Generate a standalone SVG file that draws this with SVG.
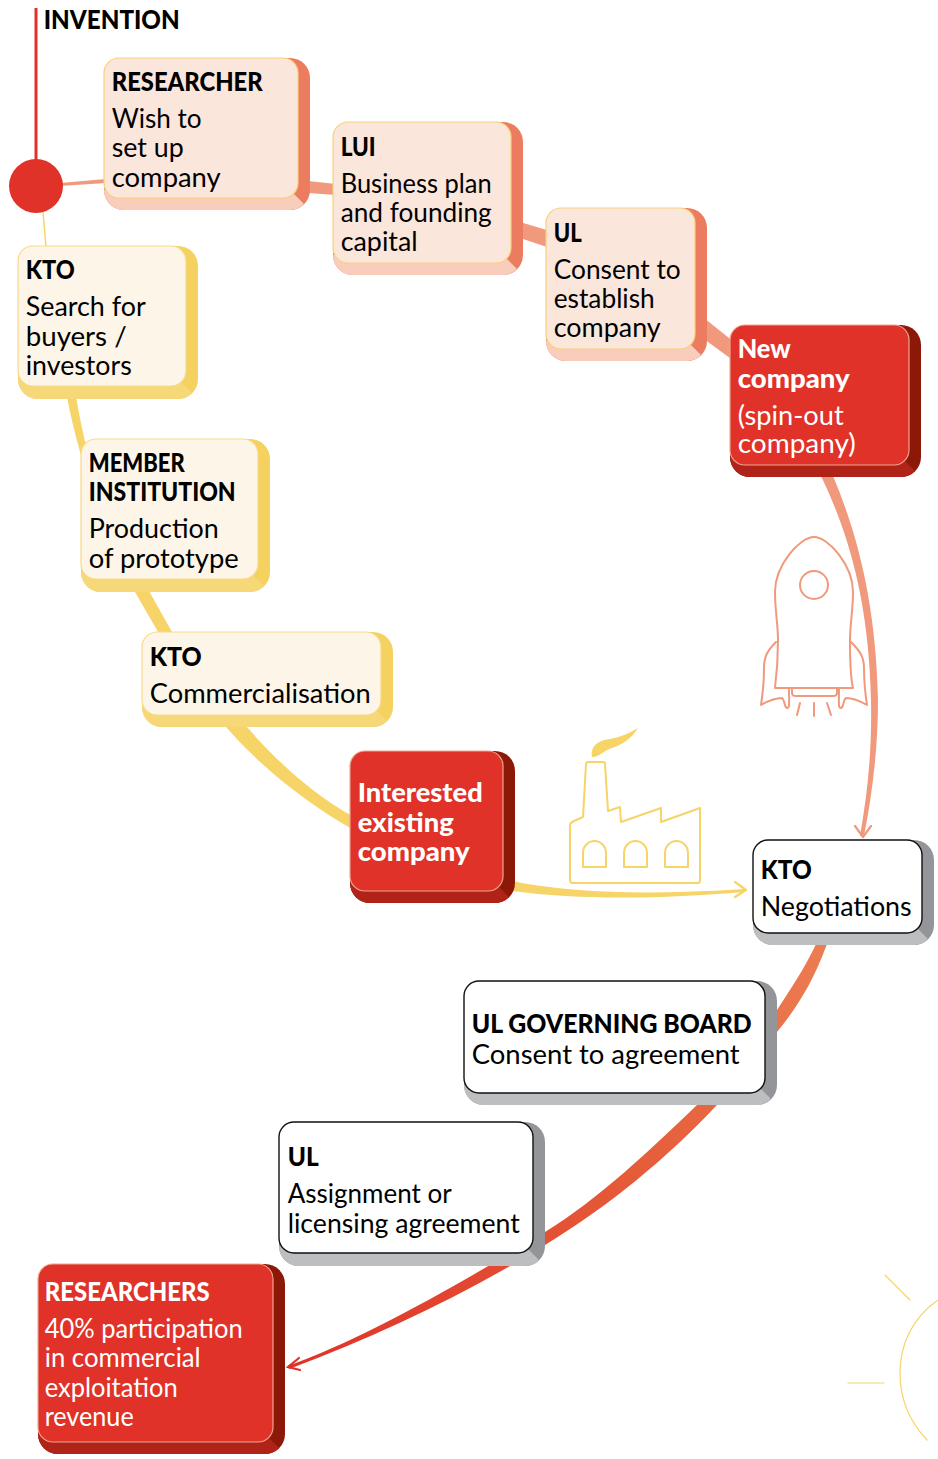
<svg xmlns="http://www.w3.org/2000/svg" width="938" height="1459" viewBox="0 0 938 1459">
<style>
text{font-family:"Lato","Noto Sans","Liberation Sans",sans-serif;font-size:27px;fill:#000;transform:translate(-.3px,0)}
.h{font-weight:900;font-size:26px;transform:translate(-.3px,0)}
.w{fill:#fff}
.pf{fill:#fbe6dc;stroke:#f7d27a;stroke-width:1.2}
.ps{fill:#ec7c60}.pb{fill:#f8cdbc}
.yf{fill:#fdf6e8;stroke:#f7d98a;stroke-width:1.2}
.ys{fill:#f5d160}.yb{fill:#f7d878}
.rf{fill:#e03228;stroke:#f0a58c;stroke-width:1.2}
.rs{fill:#8c1808}.rb{fill:#b02318}
.gf{fill:#fff;stroke:#111;stroke-width:1.4}
.gs{fill:#939598}.gb{fill:#bcbec0}
.sal{fill:none;stroke:#f1997c;stroke-linecap:round;stroke-linejoin:round}
.yel{fill:none;stroke:#f6d468;stroke-linecap:round;stroke-linejoin:round}
</style>
<defs>
<linearGradient id="redband" gradientUnits="userSpaceOnUse" x1="826" y1="945" x2="288" y2="1367">
<stop offset="0" stop-color="#ec7d52"/><stop offset=".45" stop-color="#e55a38"/><stop offset="1" stop-color="#e03228"/>
</linearGradient>
</defs>
<g id="connectors">
<path d="M36 8V160" fill="none" stroke="#e03228" stroke-width="3"/>
<path d="M60 183L106 179V183L60 186Z" fill="#f1997c"/>
<path d="M43 212L46 247" class="yel" stroke-width="1.5"/>
<path d="M308 181L336 184V195L308 193Z" fill="#f1997c"/>
<path d="M520 222L550 231V248L520 238Z" fill="#f1997c"/>
<path d="M704 318L734 342V361L704 339Z" fill="#f1997c"/>
<path d="M821 476L833 476C860 540 876 610 878 700C878 750 872 795 864 836L860 836C868 790 872 750 871 700C869 610 852 540 821 476Z" fill="#f1997c"/>
<path d="M855 826L863 837L871 826" class="sal" stroke-width="2.2"/>
<path d="M67 397C80 465 110 550 135 592C160 635 190 690 226 727C262 768 305 802 352 829L352 816C315 795 280 765 247 727C220 697 195 672 172 632C150 592 125 550 106 510C90 470 82 430 76 397Z" fill="#f6d468"/>
<path d="M512 881C580 895 660 894 745 889V892C660 899 580 900 512 891Z" fill="#f6d468"/>
<path d="M735 882L746 890L735 897" class="yel" stroke-width="2.2"/>
<path d="M817 942L827 944C812 985 795 1010 777 1032C760 1060 740 1080 717 1105C665 1160 610 1205 545 1245C470 1292 380 1335 289 1369L288 1366C360 1340 450 1290 545 1232C600 1198 650 1150 697 1105C725 1075 755 1042 777 1010C790 990 805 968 817 942Z" fill="url(#redband)"/>
<path d="M299 1358L288 1367L300 1370" fill="none" stroke="#e03228" stroke-width="2.2" stroke-linecap="round"/>
<circle cx="36" cy="186" r="27" fill="#e03228"/>
</g>
<g id="rocket" class="sal" stroke-width="2">
<path d="M814 537C800 537 775 565 775 592C775 610 778 625 778 640C778 660 776 680 775 688H853C851 680 850 660 850 640C850 625 853 610 853 592C853 565 828 537 814 537Z"/>
<circle cx="814" cy="585" r="14"/>
<path d="M776 642C768 650 764 656 764 668C764 680 763 692 761 705C768 701 775 698 782 698C785 700 784 707 787 708C790 708 789 704 789 689"/>
<path d="M851 642C859 650 864 656 864 668C864 680 865 692 867 705C860 701 853 698 846 698C843 700 844 707 841 708C838 708 839 704 839 689"/>
<path d="M792 689V693Q792 696 796 696H833Q837 696 837 693V689"/>
<path d="M800 703L797 715M814 703V716M827 703L831 715"/>
</g>
<g id="factory" class="yel" stroke-width="2">
<path d="M570 825V880Q570 883 573 883H698Q700 883 700 880V808L661 822V808L621 822L620 807L608 811L605 764Q605 762 603 762H588Q586 762 586 764L583 817L574 821Q570 823 570 825Z"/>
<path d="M583 867V853A11.500 12 0 0 1 606 853V867Z"/>
<path d="M624 867V853A11.500 12 0 0 1 647 853V867Z"/>
<path d="M665 867V853A11.500 12 0 0 1 688 853V867Z"/>
<path d="M592 757C590 745 600 740 610 739C620 737 630 733 638 728C632 738 622 745 612 748C604 750 600 757 592 757Z" fill="#f6d468" stroke="none"/>
</g>
<g id="sun" class="yel" stroke-width="1.2">
<path d="M938 1300C912 1318 900 1345 900 1373C900 1400 910 1422 927 1440"/>
<path d="M885 1275L910 1300M848 1383H884"/>
</g>
<g id="node-invention"><text class="h" x="44" y="29" textLength="136" lengthAdjust="spacingAndGlyphs">INVENTION</text></g>
<g id="node-researcher">
<rect class="ps" x="104" y="58" width="206" height="152" rx="20"/>
<path class="pb" d="M104 190L294 194L304 204A20 20 0 0 1 290 210H124A20 20 0 0 1 104 190Z"/>
<rect class="pf" x="104" y="58" width="194" height="140" rx="15"/>
<text class="h" x="112" y="91" textLength="151" lengthAdjust="spacingAndGlyphs">RESEARCHER</text>
<text x="112" y="128" textLength="90" lengthAdjust="spacingAndGlyphs">Wish to</text>
<text x="112" y="157" textLength="72" lengthAdjust="spacingAndGlyphs">set up</text>
<text x="112" y="187" textLength="109" lengthAdjust="spacingAndGlyphs">company</text>
</g>
<g id="node-lui">
<rect class="ps" x="333" y="122" width="190" height="153" rx="20"/>
<path class="pb" d="M333 255L507 259L517 269A20 20 0 0 1 503 275H353A20 20 0 0 1 333 255Z"/>
<rect class="pf" x="333" y="122" width="178" height="141" rx="15"/>
<text class="h" x="341" y="156" textLength="35" lengthAdjust="spacingAndGlyphs">LUI</text>
<text x="341" y="193" textLength="151" lengthAdjust="spacingAndGlyphs">Business plan</text>
<text x="341" y="222" textLength="151" lengthAdjust="spacingAndGlyphs">and founding</text>
<text x="341" y="251" textLength="77" lengthAdjust="spacingAndGlyphs">capital</text>
</g>
<g id="node-ul-consent">
<rect class="ps" x="546" y="208" width="161" height="153" rx="20"/>
<path class="pb" d="M546 341L691 345L701 355A20 20 0 0 1 687 361H566A20 20 0 0 1 546 341Z"/>
<rect class="pf" x="546" y="208" width="149" height="141" rx="15"/>
<text class="h" x="554" y="242" textLength="28" lengthAdjust="spacingAndGlyphs">UL</text>
<text x="554" y="279" textLength="127" lengthAdjust="spacingAndGlyphs">Consent to</text>
<text x="554" y="308" textLength="101" lengthAdjust="spacingAndGlyphs">establish</text>
<text x="554" y="337" textLength="107" lengthAdjust="spacingAndGlyphs">company</text>
</g>
<g id="node-new-company">
<rect class="rs" x="730" y="325" width="191" height="152" rx="20"/>
<path class="rb" d="M730 457L905 461L915 471A20 20 0 0 1 901 477H750A20 20 0 0 1 730 457Z"/>
<rect class="rf" x="730" y="325" width="179" height="140" rx="15"/>
<text class="h w" x="738" y="358" textLength="53" lengthAdjust="spacingAndGlyphs">New</text>
<text class="h w" x="738" y="388" textLength="112" lengthAdjust="spacingAndGlyphs">company</text>
<text class="w" x="738" y="425" textLength="106" lengthAdjust="spacingAndGlyphs">(spin-out</text>
<text class="w" x="738" y="453" textLength="118" lengthAdjust="spacingAndGlyphs">company)</text>
</g>
<g id="node-kto-search">
<rect class="ys" x="18" y="246" width="180" height="153" rx="20"/>
<path class="yb" d="M18 379L182 383L192 393A20 20 0 0 1 178 399H38A20 20 0 0 1 18 379Z"/>
<rect class="yf" x="18" y="246" width="168" height="140" rx="15"/>
<text class="h" x="26" y="279" textLength="49" lengthAdjust="spacingAndGlyphs">KTO</text>
<text x="26" y="316" textLength="120" lengthAdjust="spacingAndGlyphs">Search for</text>
<text x="26" y="346" textLength="101" lengthAdjust="spacingAndGlyphs">buyers /</text>
<text x="26" y="375" textLength="106" lengthAdjust="spacingAndGlyphs">investors</text>
</g>
<g id="node-member">
<rect class="ys" x="81" y="439" width="189" height="153" rx="20"/>
<path class="yb" d="M81 572L254 576L264 586A20 20 0 0 1 250 592H101A20 20 0 0 1 81 572Z"/>
<rect class="yf" x="81" y="439" width="177" height="140" rx="15"/>
<text class="h" x="89" y="472" textLength="96" lengthAdjust="spacingAndGlyphs">MEMBER</text>
<text class="h" x="89" y="501" textLength="147" lengthAdjust="spacingAndGlyphs">INSTITUTION</text>
<text x="89" y="538" textLength="130" lengthAdjust="spacingAndGlyphs">Production</text>
<text x="89" y="568" textLength="150" lengthAdjust="spacingAndGlyphs">of prototype</text>
</g>
<g id="node-kto-comm">
<rect class="ys" x="142" y="632" width="251" height="95" rx="20"/>
<path class="yb" d="M142 707L377 711L387 721A20 20 0 0 1 373 727H162A20 20 0 0 1 142 707Z"/>
<rect class="yf" x="142" y="632" width="239" height="83" rx="15"/>
<text class="h" x="150" y="666" textLength="52" lengthAdjust="spacingAndGlyphs">KTO</text>
<text x="150" y="703" textLength="221" lengthAdjust="spacingAndGlyphs">Commercialisation</text>
</g>
<g id="node-interested">
<rect class="rs" x="350" y="751" width="165" height="152" rx="20"/>
<path class="rb" d="M350 883L499 887L509 897A20 20 0 0 1 495 903H370A20 20 0 0 1 350 883Z"/>
<rect class="rf" x="350" y="751" width="153" height="140" rx="15"/>
<text class="h w" x="358" y="802" textLength="125" lengthAdjust="spacingAndGlyphs">Interested</text>
<text class="h w" x="358" y="832" textLength="96" lengthAdjust="spacingAndGlyphs">existing</text>
<text class="h w" x="358" y="861" textLength="112" lengthAdjust="spacingAndGlyphs">company</text>
</g>
<g id="node-kto-neg">
<rect class="gs" x="753" y="840" width="181" height="105" rx="20"/>
<path class="gb" d="M753 925L918 929L928 939A20 20 0 0 1 914 945H773A20 20 0 0 1 753 925Z"/>
<rect class="gf" x="753" y="840" width="169" height="93" rx="15"/>
<text class="h" x="761" y="879" textLength="51" lengthAdjust="spacingAndGlyphs">KTO</text>
<text x="761" y="916" textLength="151" lengthAdjust="spacingAndGlyphs">Negotiations</text>
</g>
<g id="node-board">
<rect class="gs" x="464" y="981" width="313" height="124" rx="20"/>
<path class="gb" d="M464 1085L761 1089L771 1099A20 20 0 0 1 757 1105H484A20 20 0 0 1 464 1085Z"/>
<rect class="gf" x="464" y="981" width="301" height="112" rx="15"/>
<text class="h" x="472" y="1033" textLength="280" lengthAdjust="spacingAndGlyphs">UL GOVERNING BOARD</text>
<text x="472" y="1064" textLength="268" lengthAdjust="spacingAndGlyphs">Consent to agreement</text>
</g>
<g id="node-ul-assign">
<rect class="gs" x="279" y="1122" width="266" height="144" rx="20"/>
<path class="gb" d="M279 1246L529 1250L539 1260A20 20 0 0 1 525 1266H299A20 20 0 0 1 279 1246Z"/>
<rect class="gf" x="279" y="1122" width="254" height="131" rx="15"/>
<text class="h" x="288" y="1166" textLength="31" lengthAdjust="spacingAndGlyphs">UL</text>
<text x="288" y="1203" textLength="164" lengthAdjust="spacingAndGlyphs">Assignment or</text>
<text x="288" y="1233" textLength="232" lengthAdjust="spacingAndGlyphs">licensing agreement</text>
</g>
<g id="node-researchers">
<rect class="rs" x="38" y="1264" width="247" height="190" rx="20"/>
<path class="rb" d="M38 1434L269 1438L279 1448A20 20 0 0 1 265 1454H58A20 20 0 0 1 38 1434Z"/>
<rect class="rf" x="38" y="1264" width="235" height="178" rx="15"/>
<text class="h w" x="45" y="1301" textLength="165" lengthAdjust="spacingAndGlyphs">RESEARCHERS</text>
<text class="w" x="45" y="1338" textLength="198" lengthAdjust="spacingAndGlyphs">40% participation</text>
<text class="w" x="45" y="1367" textLength="156" lengthAdjust="spacingAndGlyphs">in commercial</text>
<text class="w" x="45" y="1397" textLength="133" lengthAdjust="spacingAndGlyphs">exploitation</text>
<text class="w" x="45" y="1426" textLength="89" lengthAdjust="spacingAndGlyphs">revenue</text>
</g>
</svg>
